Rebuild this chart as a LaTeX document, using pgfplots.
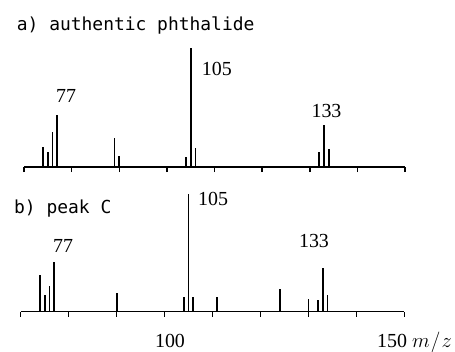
\documentclass[border=0pt]{standalone}
\usepackage{pgfplots}
\pgfplotsset{compat=1.18}
\usepackage{pgfplotstable}
\usepackage{fontspec}
\setmainfont{Liberation Serif}
\newfontfamily\labelfont{DejaVu Sans Mono}

% relative intensities (base peak m/z 105 = 100)
\pgfplotstableread{
mz  int
74  17
75  13
76  29
77  44
89  24
90  9
104 8
105 100
106 16
132 13
133 35
134 15
}\authentic
\pgfplotstableread{
mz  int
74  31
75  14
76  22
77  42
90  16
104 12.5
105 100
106 12
111 12
124 19
130 11
132 10
133 37
134 14
}\peakC

\pgfplotsset{
  msstyle/.style={
    scale only axis,
    xmin=70, xmax=150, ymin=0, ymax=100,
    axis x line*=bottom, axis y line=none,
    axis line style={line width=1.7bp, -},
    xtick={70,80,...,150}, xticklabels={},
    tick align=outside, major tick length=5bp,
    tick style={line width=1.5bp, black},
    clip=false,
  },
}

\begin{document}
\begin{tikzpicture}[x=1bp,y=1bp]
\path[use as bounding box] (0,0) rectangle (455,351);

\begin{axis}[msstyle, at={(24bp,184bp)}, anchor=south west,
  width=381bp, height=119bp]
  \addplot[ycomb, black, line width=1.8bp, no markers] table[x=mz,y=int] {\authentic};
\end{axis}

\begin{axis}[msstyle, at={(20.7bp,39.5bp)}, anchor=south west,
  width=383.6bp, height=117.7bp]
  \addplot[ycomb, black, line width=1.8bp, no markers] table[x=mz,y=int] {\peakC};
\end{axis}

% panel titles
\node[anchor=base west, inner sep=0pt, font=\labelfont\fontsize{18}{20}\selectfont] at (16.7,320.3) {a) authentic phthalide};
\node[anchor=base west, inner sep=0pt, font=\labelfont\fontsize{18}{20}\selectfont] at (14,137.7) {b) peak C};

% peak labels
\begin{scope}[every node/.style={inner sep=0pt, font=\fontsize{20}{22}\selectfont}]
\node[anchor=base] at (66,249) {77};
\node[anchor=base west] at (201.7,276) {105};
\node[anchor=base] at (326.5,234) {133};
\node[anchor=base] at (63,99) {77};
\node[anchor=base west] at (198,146) {105};
\node[anchor=base] at (314,104) {133};
% m/z axis labels
\node[anchor=base] at (170,4) {100};
\node[anchor=base west] at (377,4) {150 $m\mkern1mu/\mkern1mu z$};
\end{scope}
\end{tikzpicture}
\end{document}
